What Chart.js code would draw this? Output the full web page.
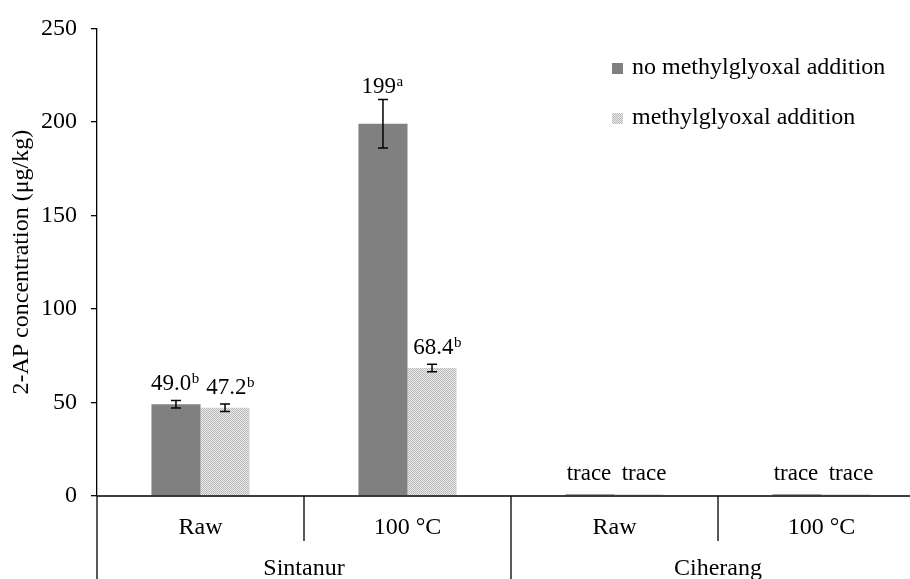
<!DOCTYPE html>
<html>
<head>
<meta charset="utf-8">
<script src="https://cdn.jsdelivr.net/npm/chart.js@4"></script>
<style>
  html, body { margin: 0; padding: 0; background: #fff; overflow: hidden; width: 910px; height: 579px; }
  canvas { display: block; }
</style>
</head>
<body>
<canvas id="c" width="935" height="579"></canvas>
<script>
// 2-AP content of rice by variety and treatment
const categories = ['Raw', '100 °C', 'Raw', '100 °C'];
const varieties = ['Sintanur', 'Ciherang'];
const seriesNames = ['no methylglyoxal addition', 'methylglyoxal addition'];

const noMgValues = [49.0, 199, 1, 1];
const noMgErrors = [2, 13, 0, 0];
const noMgLabels = ['49.0', '199', 'trace', 'trace'];
const noMgSup = ['b', 'a', '', ''];

const mgValues = [47.2, 68.4, 1, 1];
const mgErrors = [2, 2, 0, 0];
const mgLabels = ['47.2', '68.4', 'trace', 'trace'];
const mgSup = ['b', 'b', '', ''];

const yMax = 250;
const yStep = 50;

const FONT = '"Liberation Serif", "Times New Roman", serif';
const SIZE = 24;
const LABEL = 23;
const SUP = 15;

// light dotted fill for the methylglyoxal series
function dotPattern() {
  const p = document.createElement('canvas');
  p.width = 2; p.height = 2;
  const g = p.getContext('2d');
  g.fillStyle = '#ebebeb';
  g.fillRect(0, 0, 2, 2);
  g.fillStyle = '#b8b8b8';
  g.fillRect(0, 0, 1, 1);
  g.fillRect(1, 1, 1, 1);
  return document.getElementById('c').getContext('2d').createPattern(p, 'repeat');
}

const darkFill = '#808080';
const lightFill = dotPattern();

const errorsBy = [noMgErrors, mgErrors];
const labelsBy = [noMgLabels, mgLabels];
const supBy = [noMgSup, mgSup];
const labelShift = [-1, 5];

const annotate = {
  id: 'annotate',
  afterDatasetsDraw(chart) {
    const ctx = chart.ctx;
    const y = chart.scales.y;
    const x = chart.scales.x;
    const area = chart.chartArea;
    const H = chart.height;
    ctx.save();

    // x axis line, category dividers and labels
    const y0 = y.getPixelForValue(0);
    ctx.strokeStyle = '#000';
    ctx.lineWidth = 1.3;
    ctx.beginPath();
    ctx.moveTo(area.left, y0);
    ctx.lineTo(area.right, y0);
    ctx.moveTo(area.left, y0);
    ctx.lineTo(area.left, H);
    ctx.stroke();

    const half = (x.getPixelForValue(1) - x.getPixelForValue(0)) / 2;
    ctx.beginPath();
    for (let i = 1; i < categories.length; i++) {
      const sx = x.getPixelForValue(i) - half;
      ctx.moveTo(sx, y0);
      ctx.lineTo(sx, i % 2 === 0 ? H : y0 + 45);
    }
    ctx.stroke();

    ctx.fillStyle = '#000';
    ctx.textAlign = 'center';
    ctx.textBaseline = 'alphabetic';
    ctx.font = SIZE + 'px ' + FONT;
    categories.forEach((c, i) => {
      ctx.fillText(c, x.getPixelForValue(i), y0 + 38);
    });
    varieties.forEach((v, g) => {
      const cx = (x.getPixelForValue(g * 2) + x.getPixelForValue(g * 2 + 1)) / 2;
      ctx.fillText(v, cx, y0 + 79);
    });

    // error bars and value labels
    chart.data.datasets.forEach((ds, di) => {
      const meta = chart.getDatasetMeta(di);
      meta.data.forEach((el, i) => {
        const v = ds.data[i];
        const e = errorsBy[di][i];
        const bx = el.x;
        let errTop = el.y;
        if (e > 0) {
          const yt = y.getPixelForValue(v + e);
          const yb = y.getPixelForValue(v - e);
          errTop = yt;
          ctx.lineWidth = 1.5;
          ctx.beginPath();
          ctx.moveTo(bx, yt); ctx.lineTo(bx, yb);
          ctx.moveTo(bx - 5, yt); ctx.lineTo(bx + 5, yt);
          ctx.moveTo(bx - 5, yb); ctx.lineTo(bx + 5, yb);
          ctx.stroke();
        }
        const base = Math.min(el.y - 14, errTop - 6);
        const main = labelsBy[di][i];
        const sup = supBy[di][i];
        ctx.font = LABEL + 'px ' + FONT;
        const wMain = ctx.measureText(main).width;
        ctx.font = SUP + 'px ' + FONT;
        const wSup = sup ? ctx.measureText(sup).width : 0;
        const start = bx + labelShift[di] - (wMain + wSup) / 2;
        ctx.textAlign = 'left';
        ctx.font = LABEL + 'px ' + FONT;
        ctx.fillText(main, start, base);
        if (sup) {
          ctx.font = SUP + 'px ' + FONT;
          ctx.fillText(sup, start + wMain + 0.5, base - 7);
        }
      });
    });

    // legend
    const legendY = [63, 113];
    chart.data.datasets.forEach((ds, di) => {
      ctx.fillStyle = ds.backgroundColor;
      ctx.fillRect(612, legendY[di], 11, 11);
      ctx.fillStyle = '#000';
      ctx.font = SIZE + 'px ' + FONT;
      ctx.textAlign = 'left';
      ctx.fillText(ds.label, 632, legendY[di] + 11);
    });

    ctx.restore();
  }
};

new Chart(document.getElementById('c'), {
  type: 'bar',
  data: {
    labels: categories,
    datasets: [
      { label: seriesNames[0], data: noMgValues, backgroundColor: darkFill,
        barPercentage: 1, categoryPercentage: 0.474 },
      { label: seriesNames[1], data: mgValues, backgroundColor: lightFill,
        barPercentage: 1, categoryPercentage: 0.474 }
    ]
  },
  options: {
    responsive: false,
    devicePixelRatio: 1,
    animation: false,
    events: [],
    layout: { padding: { top: 25, bottom: 83, right: 10, left: 0 } },
    plugins: { legend: { display: false }, tooltip: { enabled: false } },
    scales: {
      x: { display: false },
      y: {
        min: 0, max: yMax,
        afterFit(s) { s.width = 97; },
        ticks: { stepSize: yStep, color: '#000', padding: 14,
                 font: { family: FONT, size: SIZE } },
        grid: { drawOnChartArea: false, drawTicks: true, tickLength: 6, color: '#000', lineWidth: 1.3 },
        border: { color: '#000', width: 1.3 },
        title: { display: true, text: '2-AP concentration (μg/kg)', color: '#000',
                 font: { family: FONT, size: SIZE }, padding: { top: 7, bottom: 0 } }
      }
    }
  },
  plugins: [annotate]
});
</script>
</body>
</html>
